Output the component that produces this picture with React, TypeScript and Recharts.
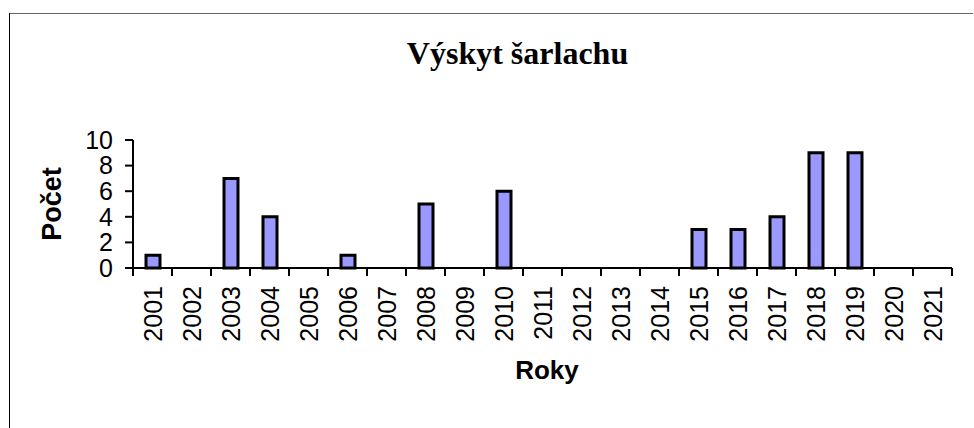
import React from 'react';
import { BarChart, Bar, XAxis, YAxis } from 'recharts';

const years = ['2001','2002','2003','2004','2005','2006','2007','2008','2009','2010','2011','2012','2013','2014','2015','2016','2017','2018','2019','2020','2021'];
const counts = [1,0,7,4,0,1,0,5,0,6,0,0,0,0,3,3,4,9,9,0,0];
const yTicks = [0,2,4,6,8,10];
const title = 'Výskyt šarlachu';
const xTitle = 'Roky';
const yTitle = 'Počet';

const data = years.map((y, i) => ({ year: y, count: counts[i] }));

const W = 974;
const H = 428;
const MARGIN = { top: 140, right: 22, left: 0, bottom: 0 };
const Y_AXIS_W = 133;
const X_AXIS_H = 160;
const PLOT_W = W - MARGIN.left - MARGIN.right - Y_AXIS_W;
const SANS = '"Liberation Sans", Arial, sans-serif';
const SERIF = '"Liberation Serif", "Times New Roman", serif';

const XTick = (props: any) => {
  const { x, y, payload, index } = props;
  const bw = PLOT_W / years.length;
  const left = x - bw / 2;
  const right = x + bw / 2;
  return (
    <g>
      <line x1={left} x2={left} y1={y} y2={y + 8} stroke="#000" strokeWidth={2} />
      {index === years.length - 1 && (
        <line x1={right} x2={right} y1={y} y2={y + 8} stroke="#000" strokeWidth={2} />
      )}
      <text
        transform={`translate(${x},${y + 18}) rotate(-90)`}
        textAnchor="end"
        dominantBaseline="central"
        fontSize={25}
        fontFamily={SANS}
        fill="#000"
      >
        {payload.value}
      </text>
    </g>
  );
};

export default function App() {
  return (
    <div style={{ position: 'absolute', left: 0, top: 0, width: W, height: H, background: '#fff' }}>
      <BarChart width={W} height={H} data={data} margin={MARGIN} barSize={14}>
        <XAxis
          dataKey="year"
          interval={0}
          tickLine={false}
          tickSize={0}
          tickMargin={0}
          height={X_AXIS_H}
          axisLine={{ stroke: '#000', strokeWidth: 2 }}
          tick={<XTick />}
        />
        <YAxis
          width={Y_AXIS_W}
          domain={[0, 10]}
          ticks={yTicks}
          interval={0}
          tickSize={8}
          tickMargin={12}
          axisLine={{ stroke: '#000', strokeWidth: 2 }}
          tickLine={{ stroke: '#000', strokeWidth: 2 }}
          tick={{ fill: '#000', fontSize: 25, fontFamily: SANS }}
        />
        <Bar dataKey="count" fill="#9999FF" stroke="#000" strokeWidth={3} isAnimationActive={false} />
      </BarChart>
      <svg
        width={W}
        height={H}
        style={{ position: 'absolute', left: 0, top: 0, pointerEvents: 'none' }}
      >
        <line x1={9} x2={973} y1={13.5} y2={13.5} stroke="#666" strokeWidth={1} />
        <line x1={9.5} x2={9.5} y1={13} y2={H} stroke="#000" strokeWidth={1} />
        <text x={517.5} y={64} textAnchor="middle" fontSize={32} fontWeight="bold" fontFamily={SERIF} fill="#000">
          {title}
        </text>
        <text x={547} y={379} textAnchor="middle" fontSize={26} fontWeight="bold" fontFamily={SANS} fill="#000">
          {xTitle}
        </text>
        <text
          transform="translate(52,204) rotate(-90)"
          textAnchor="middle"
          dominantBaseline="central"
          fontSize={27}
          fontWeight="bold"
          fontFamily={SANS}
          fill="#000"
        >
          {yTitle}
        </text>
      </svg>
    </div>
  );
}
